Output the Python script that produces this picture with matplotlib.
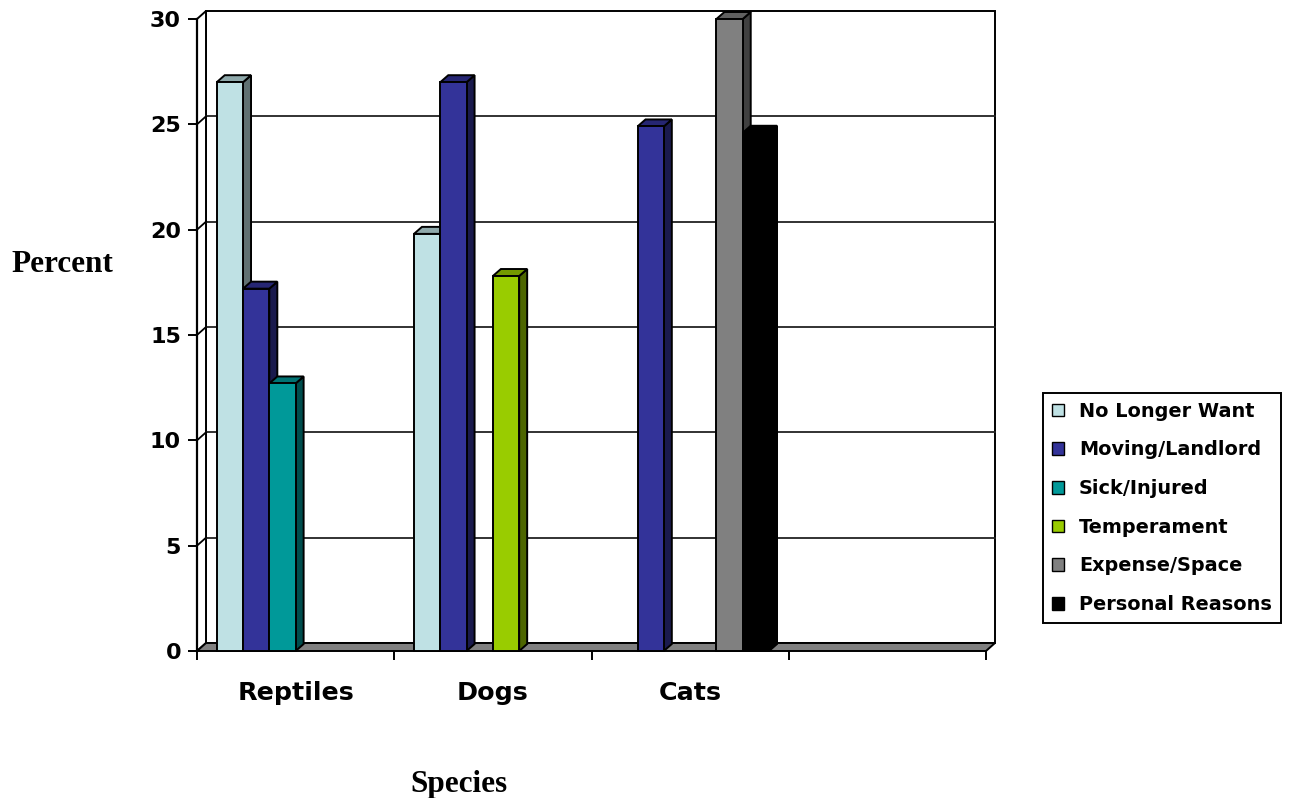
import numpy as np
import matplotlib
matplotlib.use("Agg")
import matplotlib.pyplot as plt
from matplotlib.patches import Polygon, Patch
from matplotlib.lines import Line2D
from matplotlib.transforms import IdentityTransform, blended_transform_factory

# ---- data -------------------------------------------------------------
species = ["Reptiles", "Dogs", "Cats", ""]
reasons = ["No Longer Want", "Moving/Landlord", "Sick/Injured",
           "Temperament", "Expense/Space", "Personal Reasons"]
no_longer_want = [27.0, 19.8, 0.0, 0.0]
moving_landlord = [17.2, 27.0, 24.9, 0.0]
sick_injured = [12.7, 0.0, 0.0, 0.0]
temperament = [0.0, 17.8, 0.0, 0.0]
expense_space = [0.0, 0.0, 30.0, 0.0]
personal_reasons = [0.0, 0.0, 24.6, 0.0]
y_ticks = [0, 5, 10, 15, 20, 25, 30]

series = [no_longer_want, moving_landlord, sick_injured,
          temperament, expense_space, personal_reasons]
colors = ["#BFE1E4", "#333399", "#009999", "#99CC00", "#808080", "#000000"]

# ---- figure -----------------------------------------------------------
W, H, DPI = 1290, 798, 100
fig = plt.figure(figsize=(W / DPI, H / DPI), dpi=DPI)
fig.patch.set_facecolor("white")

# front plane of the 3-D box
ax = fig.add_axes([197 / W, 147 / H, (986 - 197) / W, (651 - 19) / H])
ax.set_xlim(0, len(species))
ax.set_ylim(0, 30)
ax.patch.set_visible(False)
for side in ("top", "right", "bottom"):
    ax.spines[side].set_visible(False)
ax.spines["left"].set_linewidth(1.6)
ax.spines["left"].set_zorder(50)

ax.set_yticks(y_ticks)
ax.set_yticklabels([str(t) for t in y_ticks])
ax.tick_params(axis="y", direction="out", length=6.5, width=1.4,
               pad=5, labelsize=16)
for lab in ax.get_yticklabels():
    lab.set_fontweight("bold")
    lab.set_family("DejaVu Sans")

ax.set_xticks(np.arange(len(species) + 1))
ax.set_xticklabels([])
ax.tick_params(axis="x", direction="out", length=6.5, width=1.4)

fig.canvas.draw()

WALL_D = np.array([9.0, 8.0])   # depth of the box, pixels
BAR_D = np.array([8.0, 7.0])    # depth of each column, pixels
LW = 1.4
ident = IdentityTransform()


def px(x, y):
    return ax.transData.transform((x, y))


def poly(pts, fc, z, ec="black", lw=LW):
    p = Polygon(np.array(pts), closed=True, facecolor=fc, edgecolor=ec,
                linewidth=lw, transform=ident, zorder=z, joinstyle="miter",
                clip_on=False)
    ax.add_patch(p)


def seg(a, b, z, color="black", lw=1.3):
    ax.add_line(Line2D([a[0], b[0]], [a[1], b[1]], color=color, lw=lw,
                       transform=ident, zorder=z, clip_on=False))


def shade(c, f):
    rgb = np.array(matplotlib.colors.to_rgb(c))
    return tuple(rgb * f)


n_cat = len(species)
x_max = float(n_cat)

# back wall
bl, br = px(0, 0) + WALL_D, px(x_max, 0) + WALL_D
tl, tr = px(0, 30) + WALL_D, px(x_max, 30) + WALL_D
poly([bl, br, tr, tl], "white", 1)
# left wall
poly([px(0, 0), bl, tl, px(0, 30)], "white", 2)
# gridlines on back and left walls
for t in y_ticks[1:-1]:
    a = px(0, t)
    b = a + WALL_D
    c = px(x_max, t) + WALL_D
    seg(b, c, 3, color="#222222")
    seg(a, b, 3)
# floor
poly([px(0, 0), px(x_max, 0), br, bl], "#808080", 4)

# columns: front face through ax.bar, side and top faces as polygons
group = 7.5
bw = 1.0 / group
start = 0.75 / group
z = 10
for ci in range(n_cat):
    for si, vals in enumerate(series):
        v = vals[ci]
        if v <= 0:
            continue
        x0 = ci + start + si * bw
        x1 = x0 + bw
        col = colors[si]
        bars = ax.bar(x0, v, width=bw, align="edge", color=col,
                      edgecolor="black", linewidth=LW, zorder=z + 0.2)
        bars[0].set_clip_on(False)
        f_tl, f_tr, f_br = px(x0, v), px(x1, v), px(x1, 0)
        poly([f_br, f_tr, f_tr + BAR_D, f_br + BAR_D], shade(col, 0.5), z)
        poly([f_tl, f_tr, f_tr + BAR_D, f_tl + BAR_D], shade(col, 0.75), z + 0.1)
        z += 1

# category labels
tr_lab = blended_transform_factory(ax.transData, fig.transFigure)
for ci, name in enumerate(species):
    if name:
        ax.text(ci + 0.5, 1 - 700 / H, name, transform=tr_lab, ha="center",
                va="baseline", fontsize=18.3, fontweight="bold",
                family="DejaVu Sans")

# axis titles
fig.text(62 / W, 1 - 264 / H, "Percent", ha="center", va="center",
         fontsize=22.5, fontweight="bold", family="Liberation Serif")
fig.text(459 / W, 1 - 792 / H, "Species", ha="center", va="baseline",
         fontsize=22.5, fontweight="bold", family="Liberation Serif")

# legend
handles = [Patch(facecolor=c, edgecolor="black", linewidth=1.0) for c in colors]
leg = fig.legend(handles, reasons, loc="upper left",
                 bbox_to_anchor=(1043 / W, 1 - 393 / H), borderaxespad=0,
                 frameon=True, fancybox=False, shadow=False, framealpha=1,
                 edgecolor="black", handlelength=0.62, handleheight=0.62,
                 handletextpad=0.8, labelspacing=1.02, borderpad=0.45,
                 prop={"family": "DejaVu Sans", "weight": "bold", "size": 13.9})
leg.get_frame().set_linewidth(1.4)

fig.savefig("out.png", dpi=DPI, facecolor="white")
